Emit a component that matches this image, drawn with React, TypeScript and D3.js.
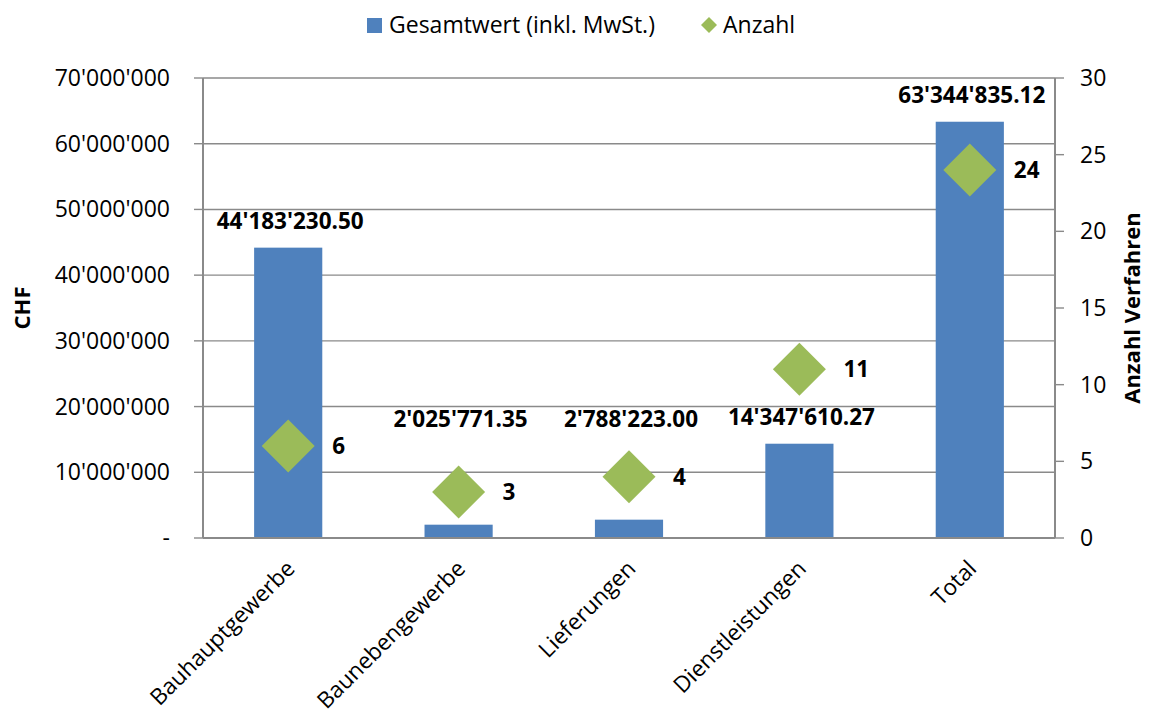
import React from "react";
import * as d3 from "d3";

const categories = ["Bauhauptgewerbe", "Baunebengewerbe", "Lieferungen", "Dienstleistungen", "Total"];
const totals = [44183230.5, 2025771.35, 2788223.0, 14347610.27, 63344835.12];
const counts = [6, 3, 4, 11, 24];
const leftTicks = [0, 10000000, 20000000, 30000000, 40000000, 50000000, 60000000, 70000000];
const rightTicks = [0, 5, 10, 15, 20, 25, 30];
const seriesNames = ["Gesamtwert (inkl. MwSt.)", "Anzahl"];

const W = 1150, H = 717;
const M = { left: 203, right: 1055, top: 78, bottom: 538 };
const FONT = "'Open Sans', sans-serif";
const BAR = "#4F81BD";
const GREEN = "#9BBB59";
const GRID = "#8a8a8a";

const fmtInt = (v: number) => (v === 0 ? "-" : d3.format(",")(v).replace(/,/g, "'"));
const fmtDec = (v: number) => d3.format(",.2f")(v).replace(/,/g, "'");

export default function App() {
  const yL = d3.scaleLinear().domain([0, 70000000]).range([M.bottom, M.top]);
  const yR = d3.scaleLinear().domain([0, 30]).range([M.bottom, M.top]);
  const x = d3.scaleBand<string>().domain(categories).range([M.left, M.right]).padding(0);
  const cx = (c: string) => (x(c) as number) + x.bandwidth() / 2;
  const bw = x.bandwidth() * 0.4;
  const dia = 26.5;
  const diamond = (r: number) => `M0,${-r}L${r},0L0,${r}L${-r},0Z`;
  const labelFloor = 14000000;

  return (
    <svg width={W} height={H} style={{ position: "absolute", left: 0, top: 0, background: "#fff" }} fontFamily={FONT}>
      {leftTicks.filter((t) => t > 0).map((t) => (
        <line key={"g" + t} x1={M.left} x2={M.right} y1={yL(t)} y2={yL(t)} stroke={GRID} strokeWidth={1.4} />
      ))}
      {categories.map((c, i) => (
        <rect key={"b" + c} x={cx(c) - bw / 2} y={yL(totals[i])} width={bw} height={M.bottom - yL(totals[i])} fill={BAR} />
      ))}
      <line x1={M.left} x2={M.left} y1={M.top} y2={M.bottom} stroke={GRID} strokeWidth={2} />
      <line x1={M.right} x2={M.right} y1={M.top} y2={M.bottom} stroke={GRID} strokeWidth={2} />
      <line x1={M.left} x2={M.right} y1={M.bottom} y2={M.bottom} stroke={GRID} strokeWidth={2} />
      {leftTicks.map((t) => (
        <g key={"lt" + t}>
          <line x1={M.left - 9} x2={M.left} y1={yL(t)} y2={yL(t)} stroke={GRID} strokeWidth={1.4} />
          <text x={170} y={yL(t)} dy="0.35em" textAnchor="end" fontSize={23} fill="#000">{fmtInt(t)}</text>
        </g>
      ))}
      {rightTicks.map((t) => (
        <g key={"rt" + t}>
          <line x1={M.right} x2={M.right + 9} y1={yR(t)} y2={yR(t)} stroke={GRID} strokeWidth={1.4} />
          <text x={1080} y={yR(t)} dy="0.35em" textAnchor="start" fontSize={23} fill="#000">{t}</text>
        </g>
      ))}
      <text transform={`translate(30,${(M.top + M.bottom) / 2}) rotate(-90)`} textAnchor="middle" fontSize={22} fontWeight="bold" fill="#000">CHF</text>
      <text transform={`translate(1140,${(M.top + M.bottom) / 2}) rotate(-90)`} textAnchor="middle" fontSize={22} fontWeight="bold" fill="#000">Anzahl Verfahren</text>
      {categories.map((c) => (
        <text key={"c" + c} transform={`translate(${cx(c) + 8},570) rotate(-45)`} textAnchor="end" fontSize={22.5} fill="#000">{c}</text>
      ))}
      {categories.map((c, i) => (
        <text key={"v" + c} x={cx(c) + 2} y={yL(Math.max(totals[i], labelFloor)) - 27} dy="0.35em" textAnchor="middle" fontSize={22.5} fontWeight="bold" fill="#000">{fmtDec(totals[i])}</text>
      ))}
      {categories.map((c, i) => (
        <g key={"d" + c}>
          <path d={diamond(dia)} transform={`translate(${cx(c)},${yR(counts[i])})`} fill={GREEN} />
          <text x={cx(c) + 44} y={yR(counts[i])} dy="0.35em" fontSize={22.5} fontWeight="bold" fill="#000">{counts[i]}</text>
        </g>
      ))}
      <rect x={367} y={18} width={15} height={15} fill={BAR} />
      <text x={389} y={25} dy="0.35em" fontSize={23} fill="#000">{seriesNames[0]}</text>
      <path d={diamond(8)} transform="translate(709,25)" fill={GREEN} />
      <text x={723} y={25} dy="0.35em" fontSize={23} fill="#000">{seriesNames[1]}</text>
    </svg>
  );
}
